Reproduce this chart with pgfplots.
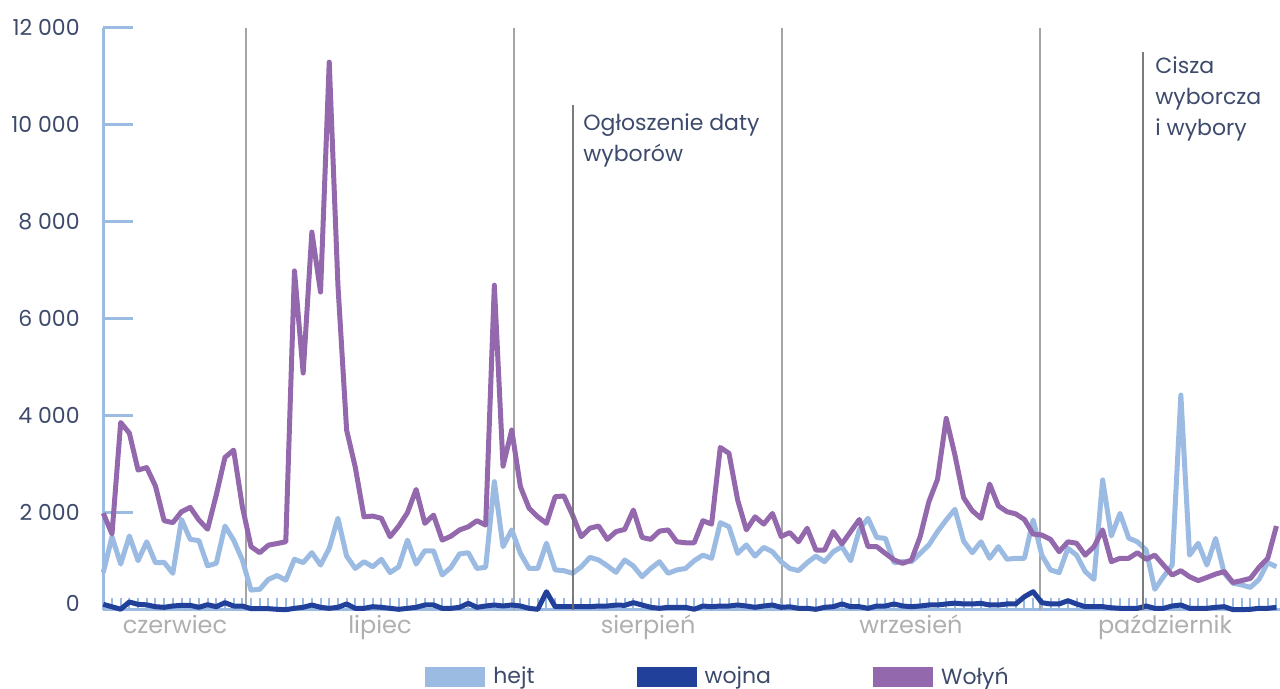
\documentclass[border=0pt]{standalone}
\usepackage{fontspec}
\setmainfont{Poppins}
\usepackage{pgfplots}
\pgfplotsset{compat=1.18}
\usepackage{pgfplotstable}

\definecolor{hejtc}{RGB}{155,187,227}
\definecolor{wojnac}{RGB}{33,64,153}
\definecolor{wolync}{RGB}{148,104,172}
\definecolor{labc}{RGB}{61,74,107}
\definecolor{monc}{RGB}{175,175,175}
\definecolor{sepc}{RGB}{165,165,165}
\definecolor{evc}{RGB}{110,110,110}

% day 0 = 14 June, one row per day
\pgfplotstableread{
day hejt wojna wolyn
0 765 110 1990
1 1505 60 1560
2 940 10 3860
3 1520 159 3640
4 1010 110 2880
5 1400 100 2930
6 970 62 2550
7 975 49 1835
8 750 76 1795
9 1860 90 2020
10 1450 90 2110
11 1425 49 1850
12 905 103 1660
13 955 62 2365
14 1725 145 3140
15 1435 76 3290
16 1025 76 2125
17 405 21 1300
18 420 21 1175
19 625 21 1330
20 705 8 1365
21 610 0 1400
22 1040 28 6985
23 970 49 4880
24 1175 97 7785
25 920 49 6550
26 1265 28 11290
27 1885 49 6695
28 1105 118 3705
29 850 28 2935
30 990 28 1915
31 885 62 1930
32 1040 49 1885
33 765 28 1505
34 885 8 1725
35 1435 28 2000
36 940 49 2480
37 1215 97 1780
38 1215 97 1950
39 715 28 1435
40 870 28 1515
41 1150 49 1645
42 1175 131 1710
43 850 49 1835
44 875 76 1745
45 2640 97 6690
46 1300 76 2960
47 1645 97 3705
48 1160 76 2535
49 850 28 2090
50 850 8 1915
51 1370 370 1780
52 820 62 2330
53 805 62 2345
54 750 62 1950
55 885 62 1505
56 1080 62 1680
57 1025 76 1725
58 905 76 1450
59 770 95 1610
60 1025 90 1655
61 900 145 2055
62 680 97 1490
63 850 49 1450
64 990 28 1620
65 750 49 1645
66 820 49 1400
67 850 49 1380
68 1010 8 1380
69 1125 76 1835
70 1060 62 1765
71 1795 76 3345
72 1710 76 3225
73 1160 97 2260
74 1335 76 1645
75 1105 49 1915
76 1285 76 1765
77 1195 97 1985
78 990 49 1510
79 850 60 1590
80 805 28 1400
81 970 28 1680
82 1105 8 1230
83 990 49 1230
84 1195 62 1610
85 1300 118 1355
86 1010 62 1610
87 1645 62 1860
88 1885 28 1300
89 1490 76 1300
90 1470 76 1160
91 970 118 1025
92 990 76 955
93 990 62 1025
94 1160 76 1505
95 1335 97 2225
96 1610 97 2690
97 1850 118 3945
98 2070 135 3190
99 1415 118 2310
100 1175 118 2040
101 1400 131 1885
102 1060 97 2590
103 1300 97 2140
104 1040 118 2020
105 1060 118 1975
106 1060 268 1860
107 1850 371 1560
108 1125 145 1540
109 820 118 1450
110 765 118 1195
111 1265 186 1400
112 1125 118 1370
113 785 62 1125
114 625 62 1300
115 2675 62 1645
116 1520 40 990
117 1985 28 1060
118 1475 28 1060
119 1400 28 1175
120 1230 76 1040
121 420 28 1125
122 680 28 920
123 920 76 715
124 4425 97 805
125 1125 28 680
126 1370 28 600
127 920 28 665
128 1470 49 735
129 750 62 785
130 545 0 560
131 510 0 600
132 460 8 645
133 625 28 875
134 970 28 1060
135 885 49 1725
}\datatable

\begin{document}
\begin{tikzpicture}
\begin{axis}[
  scale only axis,
  width=588.35pt, height=291pt,
  xmin=0, xmax=135.41,
  ymin=0, ymax=12000,
  clip=false,
  axis x line*=bottom,
  axis y line*=left,
  axis line style={hejtc, line width=1.5pt},
  tick align=inside,
  major tick length=6pt,
  scaled y ticks=false,
  % one small tick per day
  xtick={0,1,...,135},
  xticklabels={},
  xtick style={hejtc, line width=1pt},
  ytick=\empty,
  ytick style={hejtc, line width=1.5pt},
  extra y ticks={0,2000,4000,6000,8000,10000,12000},
  extra y tick labels={\raisebox{6.5pt}{0},2 000,4 000,6 000,8 000,10 000,12 000},
  extra y tick style={major tick length=15pt,
    yticklabel style={anchor=east, inner sep=0pt, xshift=-11.65pt,
      text=labc, font=\fontsize{11}{13}\selectfont}},
  extra x ticks={8.25,31.84,62.69,92.95,122.17},
  extra x tick labels={czerwiec,lipiec,sierpień,wrzesień,październik},
  extra x tick style={major tick length=0pt,
    xticklabel style={anchor=base, yshift=-12.15pt, text=monc,
      font=\fontsize{12}{14}\selectfont}},
  legend columns=3,
  legend style={at={(axis description cs:0.2649,-0.1156)}, anchor=west,
    draw=none, fill=none, inner sep=0pt,
    font=\fontsize{11}{13}\selectfont, text=labc,
    nodes={inner sep=0pt},
    /tikz/every odd column/.append style={column sep=-1pt},
    /tikz/every even column/.append style={column sep=46pt}},
  legend image code/.code={\draw[line width=10pt] (0pt,0pt) -- (30pt,0pt);},
  every axis plot/.append style={line width=2.5pt, line join=round},
]

% month separators
\draw[sepc, line width=0.7pt] (axis cs:16.42,0) -- (axis cs:16.42,12000);
\draw[sepc, line width=0.7pt] (axis cs:47.26,0) -- (axis cs:47.26,12000);
\draw[sepc, line width=0.7pt] (axis cs:78.10,0) -- (axis cs:78.10,12000);
\draw[sepc, line width=0.7pt] (axis cs:107.78,0) -- (axis cs:107.78,12000);

\addplot[hejtc] table[x=day, y=hejt] {\datatable};
\addlegendentry{hejt}
\addplot[wojnac] table[x=day, y=wojna] {\datatable};
\addlegendentry{wojna}
\addplot[wolync] table[x=day, y=wolyn] {\datatable};
\addlegendentry{Wołyń}

% events
\draw[evc, line width=1.3pt, opacity=0.9] (axis cs:54.05,0) -- (axis cs:54.05,10407);
\draw[evc, line width=1.3pt, opacity=0.9] (axis cs:119.64,0) -- (axis cs:119.64,11500);
\node[anchor=west, align=left, inner sep=0pt, text=labc,
  font=\fontsize{11}{15.5}\selectfont] at (axis cs:55.2,9680)
  {Ogłoszenie daty\\wyborów};
\node[anchor=west, align=left, inner sep=0pt, text=labc,
  font=\fontsize{11}{15.5}\selectfont] at (axis cs:121.03,10540)
  {Cisza\\wyborcza\\i wybory};
\end{axis}
\pgfresetboundingbox
\useasboundingbox (-51.65pt,-39.65pt) rectangle (588.35pt,304.85pt);
\end{tikzpicture}
\end{document}
